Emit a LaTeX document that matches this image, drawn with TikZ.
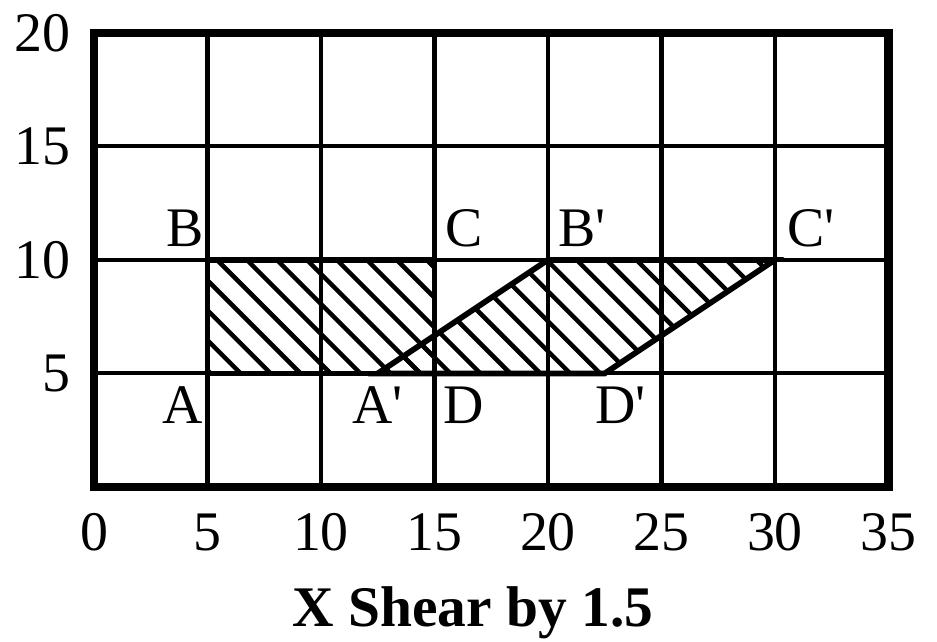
\documentclass[tikz,border=0pt]{standalone}
\usepackage{fontspec}
\setmainfont{Liberation Serif}
\usetikzlibrary{positioning}

\begin{document}
\begin{tikzpicture}[
  x=0.25cm, y=0.25cm,
  gridline/.style={line width=1.3pt, black},
  frameline/.style={line width=2.6pt, black},
  shapeedge/.style={line width=1.8pt, black, line join=miter},
  hatchline/.style={line width=1.4pt, black},
  ptlabel/.style={font=\fontsize{17.5}{20}\selectfont, inner sep=0pt},
  ticklabel/.style={font=\fontsize{17.5}{20}\selectfont, inner sep=0pt},
]

% Bounding box
\useasboundingbox (-4.14,-6.83) rectangle (37.14,21.45);

% ---- Corner points ----
\coordinate (A) at (5,5);
\coordinate (B) at (5,10);
\coordinate (C) at (15,10);
\coordinate (D) at (15,5);
\coordinate (Ap) at (12.5,5);
\coordinate (Bp) at (20,10);
\coordinate (Cp) at (30,10);
\coordinate (Dp) at (22.5,5);

% ---- Grid ----
\foreach \x in {5,10,...,30}
  \draw[gridline] (\x,0) -- (\x,20);
\foreach \y in {5,10,15}
  \draw[gridline] (0,\y) -- (35,\y);

% ---- Hatching ----
\begin{scope}
  \clip (A) -- (B) -- (C) -- (D) -- cycle;
  \foreach \k in {-5,...,20}
    \draw[hatchline] ({15.42+1.32*\k-11},11) -- ({15.42+1.32*\k-4},4);
\end{scope}
\begin{scope}
  \clip (Ap) -- (Bp) -- (Cp) -- (Dp) -- cycle;
  \foreach \k in {-5,...,20}
    \draw[hatchline] ({15.42+1.32*\k-11},11) -- ({15.42+1.32*\k-4},4);
\end{scope}

% ---- Original square and sheared shape ----
\draw[shapeedge] (A) -- (B) -- (C) -- (D) -- cycle;
\draw[shapeedge] (Ap) -- (Bp) -- (Cp) -- (Dp) -- cycle;

% ---- Frame ----
\draw[frameline] (0,0) rectangle (35,20);

% ---- Point labels ----
\node[ptlabel] (lblA) at (3.9,3.6) {A};
\node[ptlabel] (lblB) at (4.0,11.4) {B};
\node[ptlabel] (lblC) at (16.3,11.4) {C};
\node[ptlabel] (lblD) at (16.3,3.6) {D};
\node[ptlabel] (lblAp) at (12.5,3.6) {A\textquotesingle};
\node[ptlabel] (lblBp) at (21.5,11.4) {B\textquotesingle};
\node[ptlabel] (lblCp) at (31.6,11.4) {C\textquotesingle};
\node[ptlabel] (lblDp) at (23.2,3.6) {D\textquotesingle};

% ---- Axis numbers ----
\foreach \y in {5,10,15,20}
  \node[ticklabel, anchor=east] (ytick\y) at (-1.0,\y) {\y};
\foreach \x in {0,5,...,35}
  \node[ticklabel] (xtick\x) at (\x,-2.0) {\x};

% ---- Caption ----
\node[font=\fontsize{18}{22}\selectfont\bfseries, inner sep=0pt] (caption)
  at (16.7,-5.55) {X Shear by 1.5};

\end{tikzpicture}
\end{document}
